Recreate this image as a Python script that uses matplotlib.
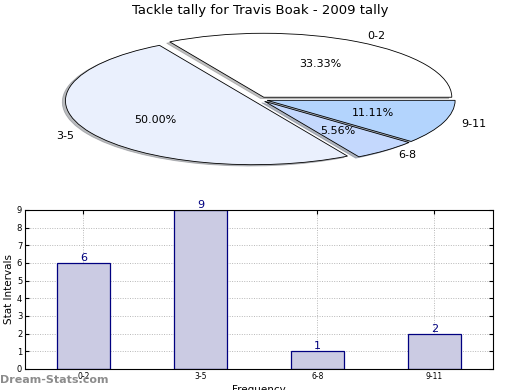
import matplotlib.pyplot as plt
import numpy as np

intervals = ["0-2", "3-5", "6-8", "9-11"]
counts = [6, 9, 1, 2]
pie_colors = ["#ffffff", "#eaf0fd", "#c4d8fd", "#b3d4fd"]
y_ticks = list(range(10))

fig = plt.figure(figsize=(5.2, 3.9), dpi=100)

# pie (stretched, old matplotlib look)
ax_pie = fig.add_axes([0.048, 0.540, 0.904, 0.410])
ax_pie.pie(
    counts,
    labels=intervals,
    colors=pie_colors,
    explode=[0.04] * len(counts),
    autopct="%.2f%%",
    shadow={"ox": -0.012, "oy": -0.015, "shade": 0.5},
    wedgeprops={"edgecolor": "black", "linewidth": 0.6},
    textprops={"fontsize": 8},
)
ax_pie.set_aspect("auto")
ax_pie.set_xlim(-1.25, 1.25)
ax_pie.set_ylim(-1.25, 1.25)
fig.text(0.5, 0.973, "Tackle tally for Travis Boak - 2009 tally",
         ha="center", va="center", fontsize=9.5)

# bar chart
ax_bar = fig.add_axes([0.048, 0.054, 0.9, 0.408])
x = np.arange(len(intervals))
ax_bar.bar(x, counts, width=0.46, color="#cbcbe3", edgecolor="#000080", linewidth=0.9, zorder=2)
for xi, c in zip(x, counts):
    ax_bar.text(xi, c, str(c), ha="center", va="bottom", color="#000080", fontsize=8, zorder=3)
ax_bar.set_xlim(-0.5, len(intervals) - 0.5)
ax_bar.set_ylim(0, 9)
ax_bar.set_xticks(x)
ax_bar.set_xticklabels(intervals, fontsize=5.5)
ax_bar.set_yticks(y_ticks)
ax_bar.tick_params(axis="y", labelsize=6, direction="in", length=3, right=True, pad=2)
ax_bar.tick_params(axis="x", direction="in", length=3, top=True, pad=2)
ax_bar.grid(True, linestyle=(0, (1, 1.5)), color="#b8b8b8", linewidth=0.7, zorder=1)
ax_bar.set_axisbelow(True)
ax_bar.set_ylabel("Stat Intervals", fontsize=7.5, labelpad=2)
ax_bar.set_xlabel("Frequency", fontsize=7.5, labelpad=3)

fig.text(0.0, 0.025, "Dream-Stats.com", ha="left", va="center", fontsize=8,
         fontweight="bold", color="#8c8c8c")

fig.savefig("out.png", dpi=100)
plt.close(fig)
